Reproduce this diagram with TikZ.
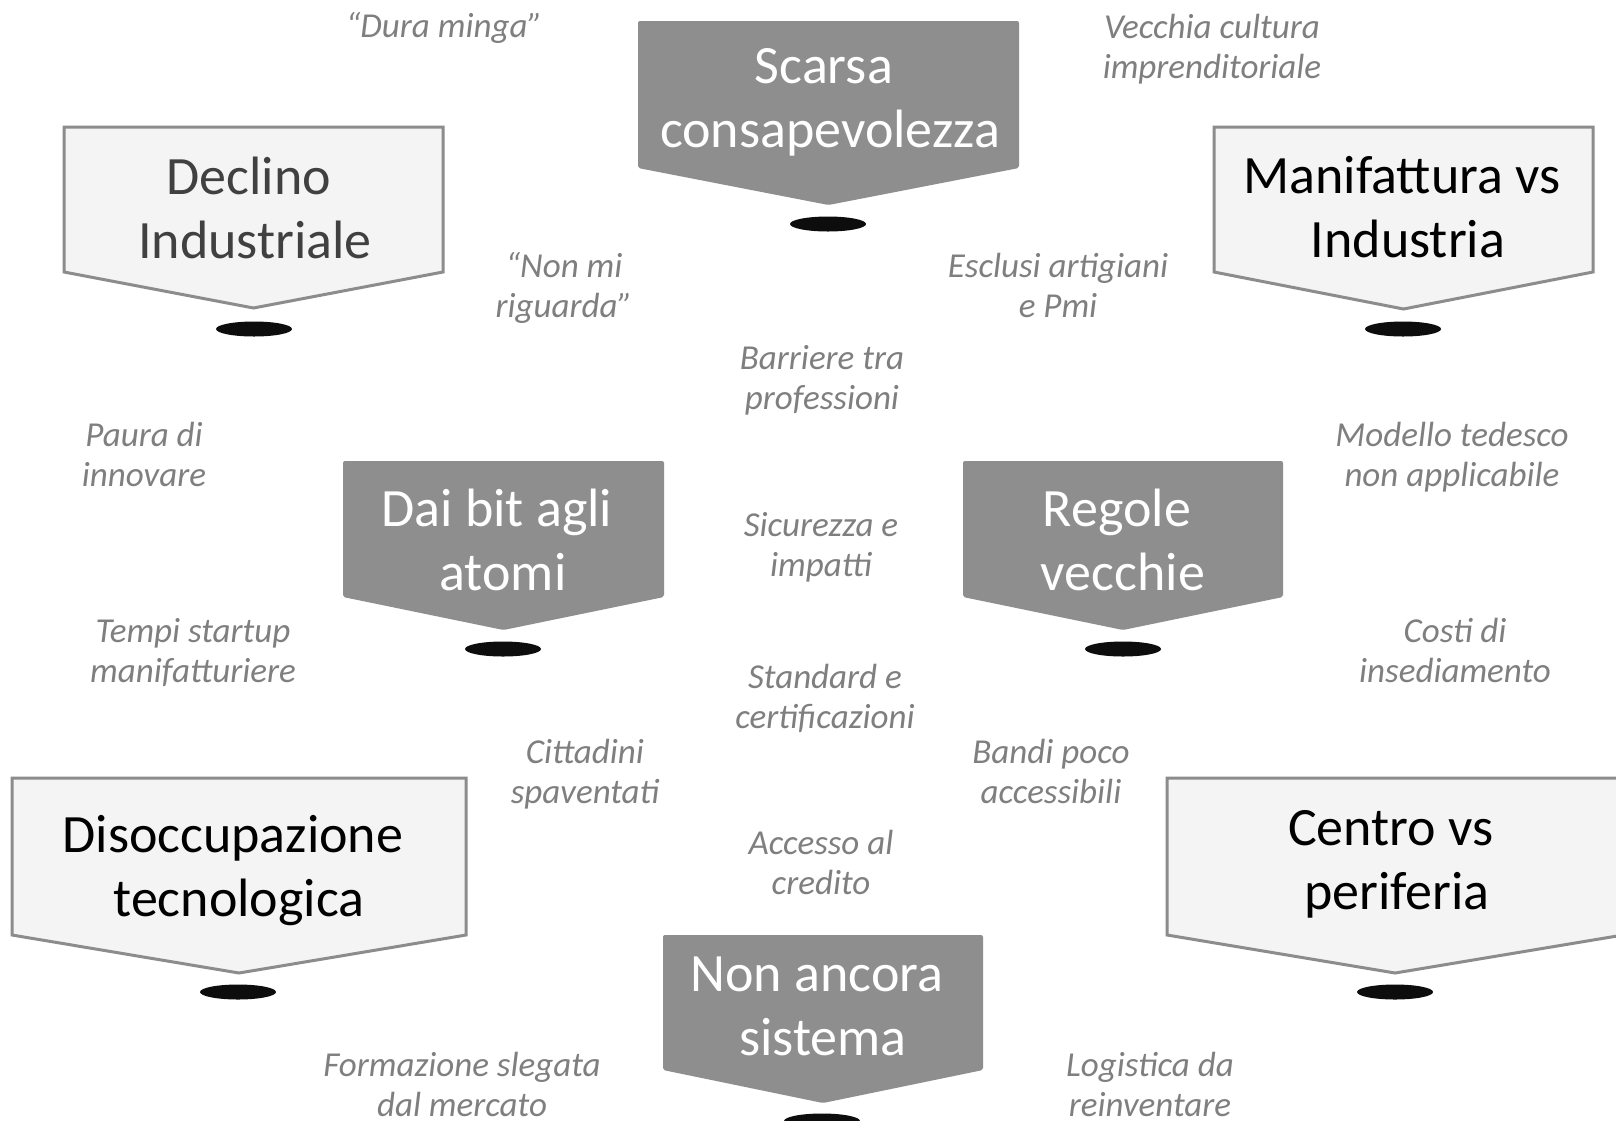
\documentclass[tikz,border=0pt]{standalone}
\usepackage{fontspec}
\setmainfont{Carlito}
\definecolor{boxdark}{HTML}{8E8E8E}
\definecolor{boxlight}{HTML}{F4F4F4}
\definecolor{boxline}{HTML}{8C8C8C}
\definecolor{labelgray}{HTML}{7F7F7F}
\definecolor{holeblack}{HTML}{0D0D0D}
\definecolor{declinotext}{HTML}{404040}
\newcommand{\trsp}{\hspace*{0.226em}}
\tikzset{
  darkbox/.style={fill=boxdark, draw=none, rounded corners=2pt},
  lightbox/.style={fill=boxlight, draw=boxline, line width=3pt, line join=miter},
  boxtext/.style={font=\fontsize{54}{64}\selectfont, align=center, inner sep=0pt,
    execute at begin node=\strut, execute at end node=\strut},
  darktext/.style={boxtext, text=white},
  lighttext/.style={boxtext, text=black},
  note/.style={font=\fontsize{35}{40}\selectfont\itshape, text=labelgray, align=center,
    inner sep=0pt, execute at begin node=\strut, execute at end node=\strut},
  hole/.style={fill=holeblack, draw=none}
}
\begin{document}
\begin{tikzpicture}[x=1pt, y=-1pt]
\useasboundingbox (0,0) rectangle (1616,1120);
\fill[white] (0,0) rectangle (1616,1120);

% ---------- boxes ----------
% Scarsa consapevolezza (dark)
\path[darkbox] (638,21) -- (1019,21) -- (1019,168) -- (828.5,205) -- (638,168) -- cycle;
\fill[hole] (828,224) ellipse [x radius=38pt, y radius=7.5pt];
\node[darktext] (scarsa) at (830,108) {Scarsa\trsp\\consapevolezza};

% Declino Industriale (light)
\path[lightbox] (64,127) -- (443,127) -- (443,272) -- (253.5,308) -- (64,272) -- cycle;
\fill[hole] (254,329) ellipse [x radius=38pt, y radius=7.5pt];
\node[boxtext, text=declinotext] (declino) at (255,217) {Declino\trsp\\Industriale};

% Manifattura vs Industria (light)
\path[lightbox] (1214,127) -- (1593,127) -- (1593,272) -- (1403.5,309) -- (1214,272) -- cycle;
\fill[hole] (1403,329) ellipse [x radius=38pt, y radius=7.5pt];
\node[lighttext] (manifattura) at (1408,217) {Manifattura vs\trsp\\Industria};

% Dai bit agli atomi (dark)
\path[darkbox] (343,461) -- (664,461) -- (664,597) -- (503.5,630) -- (343,597) -- cycle;
\fill[hole] (503,649) ellipse [x radius=38pt, y radius=7.5pt];
\node[darktext] (daibit) at (503,549) {Dai bit agli\trsp\\atomi};

% Regole vecchie (dark)
\path[darkbox] (963,461) -- (1283,461) -- (1283,597) -- (1123,630) -- (963,597) -- cycle;
\fill[hole] (1123,649) ellipse [x radius=38pt, y radius=7.5pt];
\node[darktext] (regole) at (1123,549) {Regole\trsp\\vecchie};

% Disoccupazione tecnologica (light)
\path[lightbox] (12,778) -- (466,778) -- (466,935) -- (239,973) -- (12,935) -- cycle;
\fill[hole] (238,992) ellipse [x radius=38pt, y radius=7.5pt];
\node[lighttext] (disoccupazione) at (239,876) {Disoccupazione\trsp\\tecnologica};

% Non ancora sistema (dark)
\path[darkbox] (663,935) -- (983,935) -- (983,1070) -- (823,1103) -- (663,1070) -- cycle;
\fill[hole] (822,1121) ellipse [x radius=38pt, y radius=7.5pt];
\node[darktext] (nonancora) at (823,1016) {Non ancora\trsp\\sistema};

% Centro vs periferia (light)
\path[lightbox] (1167,778) -- (1623,778) -- (1623,935) -- (1395,973) -- (1167,935) -- cycle;
\fill[hole] (1395,992) ellipse [x radius=38pt, y radius=7.5pt];
\node[lighttext] (centro) at (1397,870) {Centro vs\trsp\\periferia};

% ---------- labels ----------
\node[note] (duraminga) at (444,29) {“Dura minga”};
\node[note] (vecchia) at (1212,52) {Vecchia cultura\\imprenditoriale};
\node[note] (nonmi) at (564,291) {“Non mi\\riguarda”};
\node[note] (esclusi) at (1058,291) {Esclusi artigiani\\e Pmi};
\node[note] (barriere) at (822,383) {Barriere tra\\professioni};
\node[note] (paura) at (144,460) {Paura di\\innovare};
\node[note] (modello) at (1452,460) {Modello tedesco\\non applicabile};
\node[note] (sicurezza) at (821,550) {Sicurezza e\\impatti};
\node[note] (tempi) at (193,656) {Tempi startup\\manifatturiere};
\node[note] (costi) at (1455,656) {Costi di\\insediamento};
\node[note] (standard) at (825,702) {Standard e\\certificazioni};
\node[note] (cittadini) at (585,777) {Cittadini\\spaventati};
\node[note] (bandi) at (1051,777) {Bandi poco\\accessibili};
\node[note] (accesso) at (821,868) {Accesso al\\credito};
\node[note] (formazione) at (462,1090) {Formazione slegata\\dal mercato};
\node[note] (logistica) at (1150,1090) {Logistica da\\reinventare};
\end{tikzpicture}
\end{document}
